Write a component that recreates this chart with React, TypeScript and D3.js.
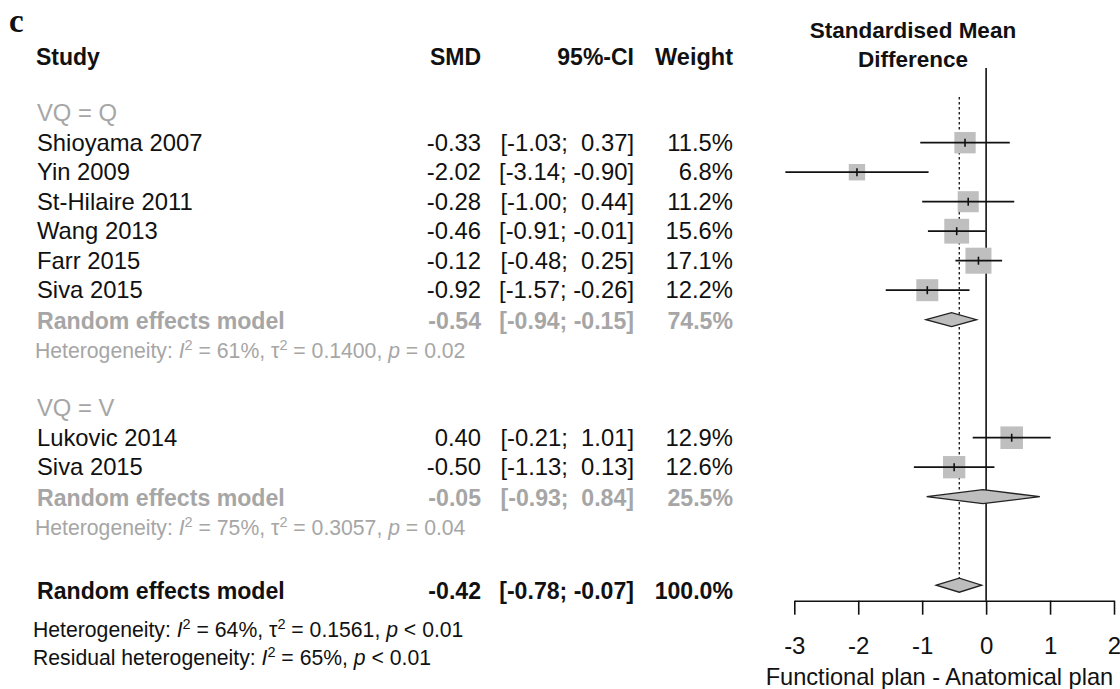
import React, { useRef, useEffect } from "react";
import * as d3 from "d3";

// subgroup VQ = Q
const studiesQ = ["Shioyama 2007", "Yin 2009", "St-Hilaire 2011", "Wang 2013", "Farr 2015", "Siva 2015"];
const smdQ = [-0.33, -2.02, -0.28, -0.46, -0.12, -0.92];
const lowerQ = [-1.03, -3.14, -1.0, -0.91, -0.48, -1.57];
const upperQ = [0.37, -0.9, 0.44, -0.01, 0.25, -0.26];
const weightQ = [11.5, 6.8, 11.2, 15.6, 17.1, 12.2];

// subgroup VQ = V
const studiesV = ["Lukovic 2014", "Siva 2015"];
const smdV = [0.4, -0.5];
const lowerV = [-0.21, -1.13];
const upperV = [1.01, 0.13];
const weightV = [12.9, 12.6];

// subgroup random effects summaries
const groupLabels = ["VQ = Q", "VQ = V"];
const groupSmd = [-0.54, -0.05];
const groupLower = [-0.94, -0.93];
const groupUpper = [-0.15, 0.84];
const groupWeight = [74.5, 25.5];
const groupI2 = ["61%", "75%"];
const groupTau2 = ["0.1400", "0.3057"];
const groupP = ["= 0.02", "= 0.04"];

// overall
const overallSmd = -0.42;
const overallLower = -0.78;
const overallUpper = -0.07;
const overallWeight = 100.0;
const overallI2 = "64%";
const overallTau2 = "0.1561";
const overallP = "< 0.01";
const residualI2 = "65%";
const residualP = "< 0.01";

const xTicks = [-3, -2, -1, 0, 1, 2];

const FONT = "'Liberation Sans', Arial, sans-serif";
const GREY = "#a6a6a6";
const BLACK = "#111";
const BODY = 23.8;
const BOLD = 23.1;

const f2 = (v) => (v < 0 ? "-" : "") + Math.abs(v).toFixed(2);
const ciText = (lo, hi) => {
  let u = f2(hi);
  if (hi >= 0) u = " " + u;
  return `[${f2(lo)}; ${u}]`;
};

const App = () => {
  const svgRef = useRef();

  useEffect(() => {
    const svg = d3.select(svgRef.current);
    svg.selectAll("*").remove();

    const x = d3.scaleLinear().domain([-3, 2]).range([794.3, 1114]);
    const row = d3.scaleLinear().domain([0, 1]).range([142.7, 172.2]);
    const box = d3.scaleSqrt().domain([0, 17.1]).range([0, 26]);
    const axisY = 600.7;

    const txt = (xx, yy, s, opts = {}) =>
      svg
        .append("text")
        .attr("x", xx)
        .attr("y", yy)
        .attr("font-family", opts.family || FONT)
        .attr("font-size", opts.size || (opts.bold ? BOLD : BODY))
        .attr("font-weight", opts.bold ? "bold" : "normal")
        .attr("fill", opts.color || BLACK)
        .attr("text-anchor", opts.anchor || "start")
        .style("white-space", "pre")
        .text(s);

    // numbers columns
    const cols = (ri, est, lo, hi, w, opts, dy = 8) => {
      const yy = row(ri) + dy;
      txt(481, yy, f2(est), { ...opts, anchor: "end" });
      txt(634, yy, ciText(lo, hi), { ...opts, anchor: "end" });
      txt(733, yy, w.toFixed(1) + "%", { ...opts, anchor: "end" });
    };

    // heterogeneity line with italic I, p and superscripts
    const het = (xx, yy, parts, color) => {
      const t = svg
        .append("text")
        .attr("x", xx)
        .attr("y", yy)
        .attr("font-family", FONT)
        .attr("font-size", 21.2)
        .attr("fill", color)
        .style("white-space", "pre");
      parts.forEach((p) => {
        const ts = t.append("tspan").text(p.t);
        if (p.it) ts.attr("font-style", "italic");
        if (p.sup) ts.attr("dy", -8).attr("font-size", 14.5);
        if (p.down) ts.attr("dy", 8);
      });
    };
    const hetParts = (i2, tau2, p) => [
      { t: "Heterogeneity: " },
      { t: "I", it: true },
      { t: "2", sup: true },
      { t: " = " + i2 + ", ", down: true },
      { t: "\u03c4" },
      { t: "2", sup: true },
      { t: " = " + tau2 + ", ", down: true },
      { t: "p", it: true },
      { t: " " + p },
    ];

    // panel letter + headers
    txt(9, 32, "c", { family: "'Liberation Serif', 'Times New Roman', serif", size: 33, bold: true });
    const hy = row(-2.9) + 8;
    txt(36, hy, "Study", { bold: true, size: 23 });
    txt(481, hy, "SMD", { bold: true, anchor: "end", size: 23 });
    txt(634, hy, "95%-CI", { bold: true, anchor: "end", size: 23 });
    txt(733, hy, "Weight", { bold: true, anchor: "end", size: 23.5 });
    txt(913, 38, "Standardised Mean", { bold: true, anchor: "middle", size: 22.5 });
    txt(913, 67, "Difference", { bold: true, anchor: "middle", size: 22.5 });

    // reference lines
    svg
      .append("line")
      .attr("x1", x(0))
      .attr("x2", x(0))
      .attr("y1", 68)
      .attr("y2", axisY)
      .attr("stroke", BLACK)
      .attr("stroke-width", 1.6);
    svg
      .append("line")
      .attr("x1", x(overallSmd))
      .attr("x2", x(overallSmd))
      .attr("y1", 97)
      .attr("y2", row(15) - 7)
      .attr("stroke", BLACK)
      .attr("stroke-width", 1.3)
      .attr("stroke-dasharray", "2.5,2.5");

    const study = (ri, name, est, lo, hi, w) => {
      txt(37, row(ri) + 8, name);
      cols(ri, est, lo, hi, w, {});
      const s = box(w);
      const cy = row(ri);
      svg
        .append("rect")
        .attr("x", x(est) - s / 2)
        .attr("y", cy - s / 2)
        .attr("width", s)
        .attr("height", s)
        .attr("fill", "#bfbfbf");
      svg
        .append("line")
        .attr("x1", x(lo))
        .attr("x2", x(hi))
        .attr("y1", cy)
        .attr("y2", cy)
        .attr("stroke", BLACK)
        .attr("stroke-width", 1.7);
      svg
        .append("line")
        .attr("x1", x(est))
        .attr("x2", x(est))
        .attr("y1", cy - 4)
        .attr("y2", cy + 4)
        .attr("stroke", BLACK)
        .attr("stroke-width", 1.6);
    };

    const diamond = (ri, est, lo, hi) => {
      const cy = row(ri);
      const h = 7;
      svg
        .append("path")
        .attr("d", `M${x(lo)},${cy}L${x(est)},${cy - h}L${x(hi)},${cy}L${x(est)},${cy + h}Z`)
        .attr("fill", "#bdbdbd")
        .attr("stroke", "#222")
        .attr("stroke-width", 1.3);
    };

    // subgroup Q
    txt(37, row(-1) + 8, groupLabels[0], { color: GREY });
    studiesQ.forEach((n, i) => study(i, n, smdQ[i], lowerQ[i], upperQ[i], weightQ[i]));
    txt(37, row(6) + 9, "Random effects model", { bold: true, color: GREY });
    cols(6, groupSmd[0], groupLower[0], groupUpper[0], groupWeight[0], { bold: true, color: GREY }, 9);
    diamond(6, groupSmd[0], groupLower[0], groupUpper[0]);
    het(35, row(7) + 9, hetParts(groupI2[0], groupTau2[0], groupP[0]), GREY);

    // subgroup V
    txt(37, row(9) + 8, groupLabels[1], { color: GREY });
    studiesV.forEach((n, i) => study(10 + i, n, smdV[i], lowerV[i], upperV[i], weightV[i]));
    txt(37, row(12) + 9, "Random effects model", { bold: true, color: GREY });
    cols(12, groupSmd[1], groupLower[1], groupUpper[1], groupWeight[1], { bold: true, color: GREY }, 9);
    diamond(12, groupSmd[1], groupLower[1], groupUpper[1]);
    het(35, row(13) + 9, hetParts(groupI2[1], groupTau2[1], groupP[1]), GREY);

    // overall
    txt(37, row(15) + 14, "Random effects model", { bold: true });
    cols(15, overallSmd, overallLower, overallUpper, overallWeight, { bold: true }, 14);
    diamond(15, overallSmd, overallLower, overallUpper);
    het(33, row(16.5) + 8, hetParts(overallI2, overallTau2, overallP), BLACK);
    het(
      33,
      row(17.45) + 8,
      [
        { t: "Residual heterogeneity: " },
        { t: "I", it: true },
        { t: "2", sup: true },
        { t: " = " + residualI2 + ", ", down: true },
        { t: "p", it: true },
        { t: " " + residualP },
      ],
      BLACK
    );

    // x axis
    const axis = svg
      .append("g")
      .attr("transform", `translate(0,${axisY})`)
      .call(d3.axisBottom(x).tickValues(xTicks).tickSize(14).tickSizeOuter(0).tickPadding(22));
    axis.select(".domain").attr("stroke", BLACK).attr("stroke-width", 1.6);
    axis.selectAll(".tick line").attr("stroke", BLACK).attr("stroke-width", 1.6);
    axis
      .selectAll(".tick text")
      .attr("font-family", FONT)
      .attr("font-size", 24)
      .attr("fill", BLACK)
      .text((d) => (d < 0 ? "-" + Math.abs(d) : String(d)));
    txt(x(-0.73), 685, "Functional plan - Anatomical plan", { anchor: "middle", size: 23.6 });
  }, []);

  return (
    <svg
      ref={svgRef}
      width="1120"
      height="689"
      style={{ position: "absolute", left: 0, top: 0, background: "#fff" }}
    ></svg>
  );
};

export default App;
